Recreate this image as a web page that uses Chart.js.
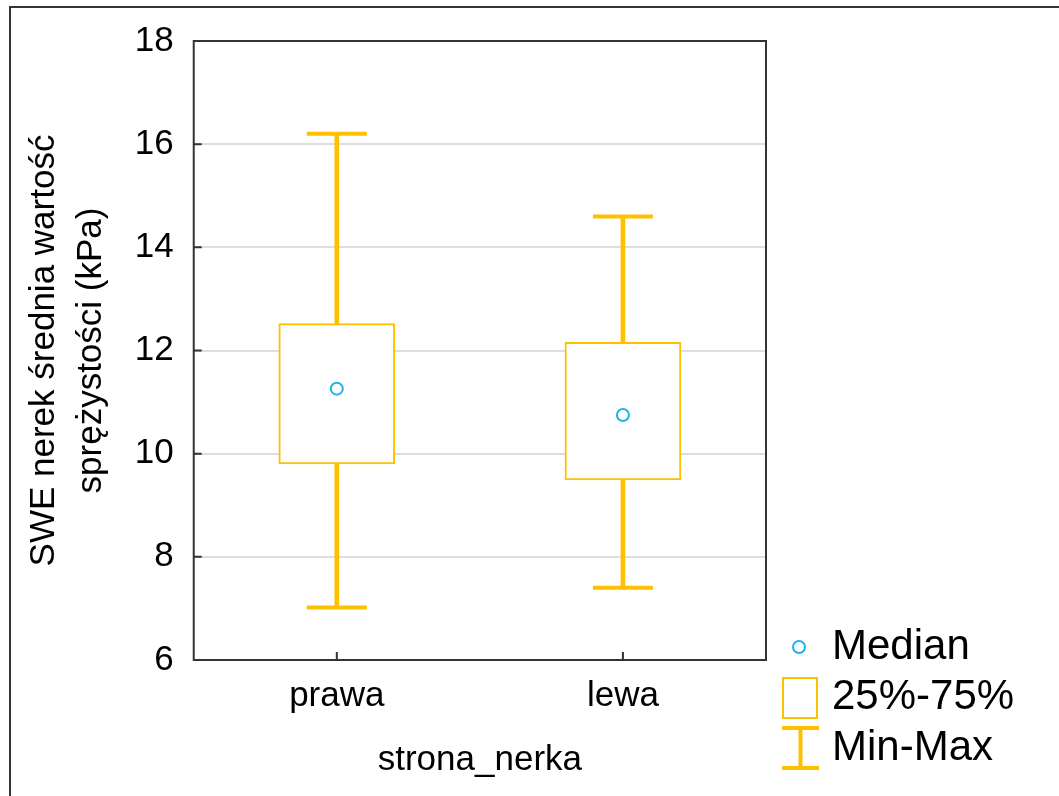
<!DOCTYPE html>
<html>
<head>
<meta charset="utf-8">
<title>SWE nerek – strona_nerka</title>
<script src="https://cdn.jsdelivr.net/npm/chart.js@4/dist/chart.umd.min.js"></script>
<style>
  html, body { margin: 0; padding: 0; background: #fff; }
  #wrap { position: relative; width: 1059px; height: 796px; }
</style>
</head>
<body>
<div id="wrap"><canvas id="chart" width="1059" height="796"></canvas></div>
<script>
// Box-plot summary per kidney side
const categories = ['prawa', 'lewa'];
const minVals    = [7.02, 7.40];
const q1Vals     = [9.80, 9.49];
const medianVals = [11.26, 10.75];
const q3Vals     = [12.52, 12.16];
const maxVals    = [16.20, 14.60];
const yTicks     = [6, 8, 10, 12, 14, 16, 18];

const legendLabels = ['Median', '25%-75%', 'Min-Max'];
const yTitle = ['SWE nerek średnia wartość', 'sprężystości (kPa)'];
const xTitle = 'strona_nerka';

const ORANGE = '#FFC000';
const CYAN = '#1FB2EE';
const FRAME = '#333333';
const FONT = '"Liberation Sans", Arial, Helvetica, sans-serif';

Chart.defaults.font.family = FONT;
Chart.defaults.color = '#000';

// Outer frame, plot frame and inward tick marks
const framePlugin = {
  id: 'frame',
  beforeDraw(chart) {
    const ctx = chart.ctx;
    ctx.save();
    ctx.fillStyle = '#fff';
    ctx.fillRect(0, 0, chart.width, chart.height);
    ctx.strokeStyle = FRAME;
    ctx.lineWidth = 2;
    ctx.beginPath();
    ctx.moveTo(10, chart.height);
    ctx.lineTo(10, 7);
    ctx.lineTo(chart.width, 7);
    ctx.stroke();
    ctx.restore();
  },
  afterDatasetsDraw(chart) {
    const { ctx, chartArea: a, scales } = chart;
    ctx.save();
    ctx.strokeStyle = FRAME;
    ctx.lineWidth = 2;
    ctx.strokeRect(a.left, a.top, a.right - a.left, a.bottom - a.top);
    ctx.beginPath();
    yTicks.forEach(v => {
      const y = scales.y.getPixelForValue(v);
      ctx.moveTo(a.left, y);
      ctx.lineTo(a.left + 8, y);
    });
    categories.forEach((c, i) => {
      const x = scales.x.getPixelForValue(i);
      ctx.moveTo(x, a.bottom);
      ctx.lineTo(x, a.bottom - 8);
    });
    ctx.stroke();
    ctx.restore();
  }
};

// Legend in the lower right corner
const legendPlugin = {
  id: 'boxLegend',
  afterDraw(chart) {
    const ctx = chart.ctx;
    ctx.save();
    const x0 = 782, tx = 832;
    const rows = [647, 697, 748];
    // median marker
    ctx.strokeStyle = CYAN;
    ctx.lineWidth = 2;
    ctx.beginPath();
    ctx.arc(799, rows[0], 6, 0, Math.PI * 2);
    ctx.stroke();
    // quartile box
    ctx.strokeStyle = ORANGE;
    ctx.lineWidth = 2;
    ctx.strokeRect(x0 + 1, rows[1] - 19, 34, 40);
    // min-max whisker
    ctx.lineWidth = 4;
    ctx.beginPath();
    ctx.moveTo(x0, rows[2] - 20); ctx.lineTo(x0 + 37, rows[2] - 20);
    ctx.moveTo(x0 + 18.5, rows[2] - 20); ctx.lineTo(x0 + 18.5, rows[2] + 20);
    ctx.moveTo(x0, rows[2] + 20); ctx.lineTo(x0 + 37, rows[2] + 20);
    ctx.stroke();
    // texts
    ctx.fillStyle = '#000';
    ctx.font = '42px ' + FONT;
    ctx.textBaseline = 'middle';
    ctx.textAlign = 'left';
    legendLabels.forEach((t, i) => ctx.fillText(t, tx, rows[i]));
    ctx.restore();
  }
};

const rangeData = (lo, hi) => categories.map((c, i) => [lo[i], hi[i]]);

new Chart(document.getElementById('chart'), {
  type: 'bar',
  data: {
    labels: categories,
    datasets: [
      {
        type: 'line', label: 'Median', data: medianVals,
        showLine: false, pointStyle: 'circle', pointRadius: 6,
        pointBorderWidth: 2, pointBorderColor: CYAN, pointBackgroundColor: '#fff',
        order: 0
      },
      {
        type: 'line', label: 'Max', data: maxVals,
        showLine: false, pointStyle: 'line', pointRadius: 30,
        pointBorderWidth: 4, pointBorderColor: ORANGE, order: 1
      },
      {
        type: 'line', label: 'Min', data: minVals,
        showLine: false, pointStyle: 'line', pointRadius: 30,
        pointBorderWidth: 4, pointBorderColor: ORANGE, order: 1
      },
      {
        label: '25%-75%', data: rangeData(q1Vals, q3Vals),
        backgroundColor: '#fff', borderColor: ORANGE, borderWidth: 2,
        borderSkipped: false, barThickness: 116, grouped: false, order: 2
      },
      {
        label: 'upper whisker', data: rangeData(q3Vals, maxVals),
        backgroundColor: ORANGE, borderWidth: 0,
        barThickness: 4, grouped: false, order: 3
      },
      {
        label: 'lower whisker', data: rangeData(minVals, q1Vals),
        backgroundColor: ORANGE, borderWidth: 0,
        barThickness: 4, grouped: false, order: 3
      }
    ]
  },
  options: {
    responsive: false,
    animation: false,
    events: [],
    layout: { padding: { left: 21, top: 41, right: 293, bottom: 15 } },
    plugins: {
      legend: { display: false },
      tooltip: { enabled: false }
    },
    scales: {
      x: {
        type: 'category',
        offset: true,
        grid: { display: false, drawTicks: false },
        border: { display: false },
        ticks: { padding: 15, font: { size: 35 }, color: '#000' },
        title: {
          display: true, text: xTitle, color: '#000',
          font: { size: 35 }, padding: { top: 7, bottom: 0 }
        }
      },
      y: {
        min: 6, max: 18,
        afterBuildTicks(scale) { scale.ticks = yTicks.map(v => ({ value: v })); },
        grid: { color: '#dedede', lineWidth: 2, drawTicks: false },
        border: { display: false },
        ticks: { padding: 20, font: { size: 35 }, color: '#000' },
        title: {
          display: true, text: yTitle, color: '#000',
          font: { size: 35, lineHeight: 1.34 }, padding: { top: 0, bottom: 0 }
        }
      }
    }
  },
  plugins: [framePlugin, legendPlugin]
});
</script>
</body>
</html>
